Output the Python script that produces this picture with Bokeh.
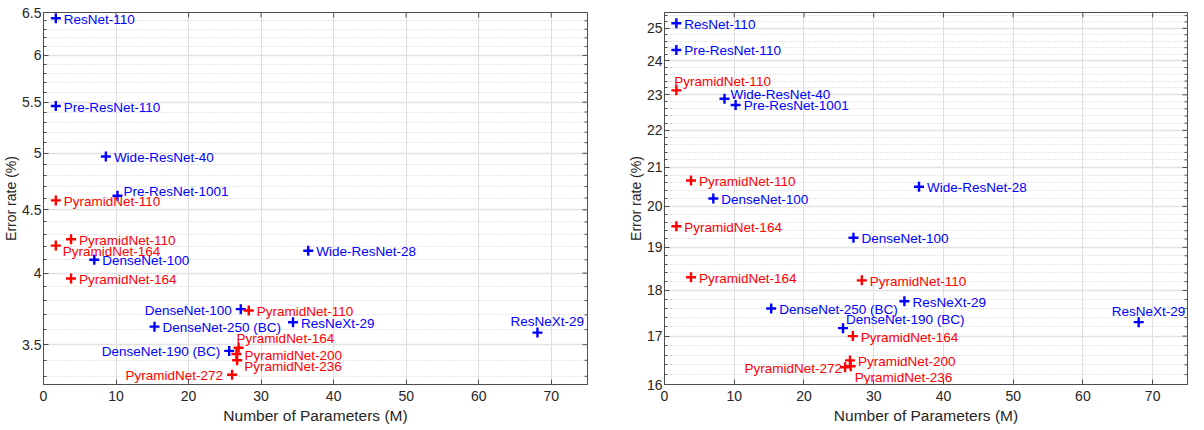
import math
from bokeh.plotting import figure
from bokeh.models import ColumnDataSource, FixedTicker, Range1d, CustomJSTickFormatter
from bokeh.layouts import row
from bokeh.embed import file_html
from bokeh.resources import INLINE
from bokeh.core.properties import value

# ---------------- data: left panel (CIFAR-10) ----------------
c10_names = ["ResNet-110", "Pre-ResNet-110", "Wide-ResNet-40", "Pre-ResNet-1001",
             "PyramidNet-110", "PyramidNet-110", "PyramidNet-164", "DenseNet-100",
             "PyramidNet-164", "DenseNet-100", "PyramidNet-110", "DenseNet-250 (BC)",
             "ResNeXt-29", "ResNeXt-29", "DenseNet-190 (BC)", "PyramidNet-164",
             "PyramidNet-200", "PyramidNet-236", "PyramidNet-272", "Wide-ResNet-28"]
c10_params = [1.7, 1.7, 8.6, 10.2, 1.7, 3.8, 1.7, 7.0, 3.8, 27.2, 28.3, 15.3,
              34.4, 68.1, 25.6, 26.9, 26.6, 26.7, 26.0, 36.5]
c10_error = [6.43, 5.46, 4.97, 4.62, 4.58, 4.26, 4.21, 4.10, 3.96, 3.74, 3.73, 3.62,
             3.65, 3.58, 3.46, 3.48, 3.44, 3.40, 3.31, 4.17]
c10_pyramid = [False, False, False, False, True, True, True, False, True, False, True, False,
               False, False, False, True, True, True, True, False]
c10_place = ["r", "r", "r", "ru", "r", "r", "rd", "r", "r", "l", "r", "r",
             "r", "up", "l", "a", "r", "rd", "l", "r"]

# ---------------- data: right panel (CIFAR-100) ----------------
c100_names = ["ResNet-110", "Pre-ResNet-110", "PyramidNet-110", "Wide-ResNet-40",
              "Pre-ResNet-1001", "PyramidNet-110", "DenseNet-100", "PyramidNet-164",
              "DenseNet-100", "PyramidNet-164", "PyramidNet-110", "DenseNet-250 (BC)",
              "DenseNet-190 (BC)", "PyramidNet-164", "PyramidNet-200", "PyramidNet-236",
              "PyramidNet-272", "ResNeXt-29", "ResNeXt-29", "Wide-ResNet-28"]
c100_params = [1.7, 1.7, 1.7, 8.6, 10.2, 3.8, 7.0, 1.7, 27.1, 3.8, 28.3, 15.3,
               25.6, 27.0, 26.6, 26.7, 25.9, 34.4, 68.0, 36.5]
c100_error = [25.16, 24.33, 23.13, 22.89, 22.71, 20.66, 20.20, 19.51, 19.23, 18.30, 18.23, 17.60,
              17.17, 17.00, 16.49, 16.37, 16.35, 17.76, 17.30, 20.50]
c100_pyramid = [False, False, True, False, False, True, False, True, False, True, True, False,
                False, True, True, True, True, False, False, False]
c100_place = ["r", "r", "a", "ru", "r", "r", "r", "r", "r", "r", "r", "r",
              "ar", "r", "r", "bd", "ls", "r", "up", "r"]

x_ticks = [0, 10, 20, 30, 40, 50, 60, 70]
c10_yticks = [3.5, 4, 4.5, 5, 5.5, 6, 6.5]
c100_yticks = [16, 17, 18, 19, 20, 21, 22, 23, 24, 25]

# ---------------- styling ----------------
FONT = "Liberation Sans"
TXT = "#262626"
AXC = "#4d4d4d"
PLACE = {
    "r": (8, 1, "left"),
    "l": (-9, 1, "right"),
    "ls": (-3, 1, "right"),
    "ru": (6, -4, "left"),
    "rd": (7, 6, "left"),
    "a": (-2, -9, "left"),
    "ar": (3, -9, "left"),
    "bd": (4, 11, "left"),
    "up": (-27, -11, "left"),
}
XMAX = 75


def minor_list(lo, hi, step, majors):
    n = int(round((hi - lo) / step))
    vals = [round(lo + i * step, 3) for i in range(n + 1)]
    return [v for v in vals if all(abs(v - m) > 1e-6 for m in majors)]


def make_fig(names, params, errors, pyramid, places, ylo, yhi, yticks, yminor,
             fw, fh, mb_left, mb_right, mb_top):
    p = figure(title=None, frame_width=fw, frame_height=fh,
               x_range=Range1d(0, XMAX), y_range=Range1d(ylo, yhi),
               y_axis_type="log", output_backend="svg", toolbar_location=None,
               min_border_left=mb_left, min_border_right=mb_right,
               min_border_top=mb_top, min_border_bottom=40,
               background_fill_color="white", border_fill_color="white")
    p.outline_line_color = AXC
    p.outline_line_width = 1

    p.xaxis.ticker = FixedTicker(ticks=x_ticks)
    p.yaxis.ticker = FixedTicker(ticks=yticks, minor_ticks=yminor)
    p.yaxis.formatter = CustomJSTickFormatter(code="return String(Math.round(tick*100)/100);")

    for ax in (p.xaxis, p.yaxis):
        ax.axis_line_color = AXC
        ax.major_tick_line_color = AXC
        ax.major_tick_in = 5
        ax.major_tick_out = 0
        ax.major_label_text_font = FONT
        ax.major_label_text_font_size = "14px"
        ax.major_label_text_color = TXT
        ax.axis_label_text_font = FONT
        ax.axis_label_text_font_style = "normal"
        ax.axis_label_text_color = TXT
    p.xaxis.minor_tick_line_color = None
    p.xaxis.major_label_standoff = 6
    p.xaxis.axis_label = "Number of Parameters (M)"
    p.xaxis.axis_label_text_font_size = "15.5px"
    p.xaxis.axis_label_standoff = 3
    p.yaxis.minor_tick_line_color = AXC
    p.yaxis.minor_tick_in = 3
    p.yaxis.minor_tick_out = 0
    p.yaxis.major_label_standoff = 2
    p.yaxis.axis_label = "Error rate (%)"
    p.yaxis.axis_label_text_font_size = "14px"
    p.yaxis.axis_label_standoff = 0

    p.xgrid.grid_line_color = "#dedede"
    p.xgrid.grid_line_width = 1
    p.ygrid.grid_line_color = "#e2e2e2"
    p.ygrid.grid_line_width = 1.6
    p.ygrid.minor_grid_line_color = "#cfcfcf"
    p.ygrid.minor_grid_line_dash = "1 2"
    p.ygrid.minor_grid_line_width = 1

    # inward ticks on the top and right box edges (half of each dash is clipped by the frame)
    p.scatter(x=[XMAX] * len(yticks), y=yticks, marker="dash", size=10,
              line_color=AXC, line_width=1)
    p.scatter(x=[XMAX] * len(yminor), y=yminor, marker="dash", size=6,
              line_color=AXC, line_width=1)
    p.scatter(x=x_ticks, y=[yhi] * len(x_ticks), marker="dash", angle=math.pi / 2,
              size=10, line_color=AXC, line_width=1)

    colors = ["#ff0000" if f else "#0000ff" for f in pyramid]
    src = ColumnDataSource(dict(
        x=params, y=errors, name=names, color=colors,
        dx=[PLACE[k][0] for k in places],
        dy=[PLACE[k][1] for k in places],
        align=[PLACE[k][2] for k in places],
    ))
    p.scatter(x="x", y="y", source=src, marker="cross", size=10, line_width=2.4,
              line_color="color")
    p.text(x="x", y="y", text="name", source=src, text_color="color",
           text_font=value(FONT), text_font_size="13.5px", text_align="align",
           text_baseline="middle", x_offset="dx", y_offset="dy")
    return p


p1 = make_fig(c10_names, c10_params, c10_error, c10_pyramid, c10_place,
              3.25, 6.5, c10_yticks, minor_list(3.3, 6.4, 0.1, c10_yticks),
              fw=544, fh=372, mb_left=36, mb_right=12, mb_top=12)
p2 = make_fig(c100_names, c100_params, c100_error, c100_pyramid, c100_place,
              16, 25.5, c100_yticks, minor_list(16.2, 25.4, 0.2, c100_yticks),
              fw=523, fh=372, mb_left=65, mb_right=8, mb_top=12)

layout = row(p1, p2)
open("out.html", "w").write(file_html(layout, INLINE))
